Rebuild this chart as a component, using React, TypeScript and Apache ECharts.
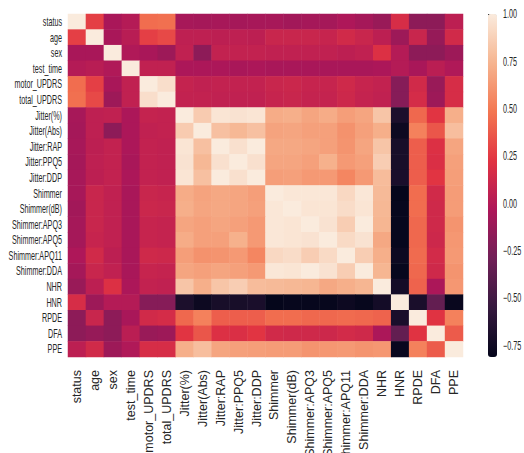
import React, { useEffect, useRef } from "react";
import * as echarts from "echarts";

const variables = [
  "status", "age", "sex", "test_time", "motor_UPDRS", "total_UPDRS",
  "Jitter(%)", "Jitter(Abs)", "Jitter:RAP", "Jitter:PPQ5", "Jitter:DDP",
  "Shimmer", "Shimmer(dB)", "Shimmer:APQ3", "Shimmer:APQ5", "Shimmer:APQ11",
  "Shimmer:DDA", "NHR", "HNR", "RPDE", "DFA", "PPE",
];

// Upper-triangle correlations: each row lists values for columns i+1..21
const rowStatus = [0.27, -0.05, 0.0, 0.45, 0.46, -0.06, -0.07, -0.06, -0.07, -0.06, -0.06, -0.08, -0.07, -0.07, -0.03, -0.07, -0.12, 0.17, -0.17, -0.17, 0.04];
const rowAge = [-0.05, 0.02, 0.27, 0.31, 0.05, 0.05, 0.04, 0.05, 0.04, 0.1, 0.1, 0.1, 0.09, 0.14, 0.1, 0.04, -0.1, 0.1, -0.13, 0.14];
const rowSex = [-0.02, -0.05, -0.1, 0.06, -0.17, 0.07, 0.07, 0.07, 0.06, 0.06, 0.06, 0.06, 0.04, 0.06, 0.2, 0.0, -0.17, -0.17, -0.1];
const rowTestTime = [0.06, 0.06, -0.04, -0.04, -0.04, -0.05, -0.04, -0.05, -0.05, -0.05, -0.05, -0.05, -0.05, -0.04, 0.0, -0.05, 0.03, -0.02];
const rowMotor = [0.94, 0.08, 0.06, 0.07, 0.07, 0.07, 0.1, 0.11, 0.09, 0.09, 0.13, 0.09, 0.07, -0.2, 0.14, -0.12, 0.17];
const rowTotal = [0.07, 0.07, 0.06, 0.06, 0.06, 0.09, 0.1, 0.08, 0.08, 0.12, 0.08, 0.06, -0.2, 0.16, -0.1, 0.17];
const rowJitterPct = [0.85, 0.97, 0.96, 0.97, 0.71, 0.72, 0.68, 0.71, 0.65, 0.68, 0.82, -0.68, 0.43, 0.23, 0.72];
const rowJitterAbs = [0.8, 0.76, 0.8, 0.67, 0.68, 0.66, 0.66, 0.6, 0.66, 0.72, -0.76, 0.53, 0.36, 0.79];
const rowJitterRAP = [0.95, 1.0, 0.69, 0.69, 0.68, 0.66, 0.61, 0.68, 0.82, -0.7, 0.39, 0.2, 0.68];
const rowJitterPPQ5 = [0.95, 0.68, 0.68, 0.66, 0.73, 0.63, 0.66, 0.86, -0.7, 0.39, 0.19, 0.66];
const rowJitterDDP = [0.65, 0.66, 0.63, 0.63, 0.55, 0.63, 0.78, -0.69, 0.39, 0.23, 0.65];
const rowShimmer = [0.98, 0.98, 0.98, 0.91, 0.98, 0.77, -0.8, 0.45, 0.14, 0.64];
const rowShimmerDB = [0.97, 0.97, 0.93, 0.97, 0.76, -0.79, 0.45, 0.13, 0.64];
const rowAPQ3 = [0.96, 0.86, 1.0, 0.75, -0.79, 0.43, 0.13, 0.61];
const rowAPQ5 = [0.92, 0.96, 0.69, -0.79, 0.43, 0.12, 0.62];
const rowAPQ11 = [0.86, 0.72, -0.76, 0.44, 0.15, 0.63];
const rowDDA = [0.75, -0.79, 0.43, 0.13, 0.61];
const rowNHR = [-0.72, 0.41, -0.04, 0.62];
const rowHNR = [-0.69, -0.35, -0.78];
const rowRPDE = [0.22, 0.53];
const rowDFA = [0.38];

const upperRows = [
  rowStatus, rowAge, rowSex, rowTestTime, rowMotor, rowTotal, rowJitterPct,
  rowJitterAbs, rowJitterRAP, rowJitterPPQ5, rowJitterDDP, rowShimmer,
  rowShimmerDB, rowAPQ3, rowAPQ5, rowAPQ11, rowDDA, rowNHR, rowHNR, rowRPDE, rowDFA, [],
];

const colorbarTicks = [-0.75, -0.5, -0.25, 0, 0.25, 0.5, 0.75, 1.0];
const rocket = ["#03051a", "#35193e", "#701f57", "#ad1759", "#e13342", "#f37651", "#f6b48f", "#faebdd"];
const scaleMin = -0.81;
const scaleMax = 1.0;

function buildData() {
  const n = variables.length;
  const data: [number, number, number][] = [];
  for (let i = 0; i < n; i++) {
    for (let j = 0; j < n; j++) {
      let v: number;
      if (i === j) v = 1;
      else if (j > i) v = upperRows[i][j - i - 1];
      else v = upperRows[j][i - j - 1];
      data.push([j, i, v]);
    }
  }
  return data;
}

const LABEL_FONT = "Liberation Sans, Arial, sans-serif";
const TEXT_COLOR = "#262626";

export default function App() {
  const ref = useRef<HTMLDivElement>(null);
  useEffect(() => {
    if (!ref.current) return;
    const chart = echarts.init(ref.current, null, { renderer: "svg" });
    const fmt = (v: number) => v.toFixed(2).replace("-", "\u2212");
    chart.setOption({
      animation: false,
      backgroundColor: "#ffffff",
      grid: [
        { left: 68, top: 14, width: 395, height: 343, outerBoundsMode: "none", containLabel: false },
        { left: 488, top: 14, width: 9, height: 343, outerBoundsMode: "none", containLabel: false },
      ],
      xAxis: [
        {
          type: "category",
          data: variables,
          gridIndex: 0,
          axisLine: { show: false },
          axisTick: { show: false },
          splitLine: { show: false },
          axisLabel: {
            rotate: 90,
            interval: 0,
            margin: 13,
            fontSize: 12.5,
            color: TEXT_COLOR,
            fontFamily: LABEL_FONT,
          },
        },
        { type: "value", gridIndex: 1, show: false, min: 0, max: 1 },
      ],
      yAxis: [
        {
          type: "category",
          data: variables,
          inverse: true,
          gridIndex: 0,
          axisLine: { show: false },
          axisTick: { show: false },
          splitLine: { show: false },
          axisLabel: { show: false },
        },
        {
          type: "value",
          gridIndex: 1,
          position: "right",
          min: scaleMin,
          max: scaleMax,
          axisLine: { show: false },
          splitLine: { show: false },
          axisTick: { show: true, length: 3, customValues: colorbarTicks, lineStyle: { color: TEXT_COLOR } },
          axisLabel: { show: false },
        },
      ],
      visualMap: {
        type: "continuous",
        min: scaleMin,
        max: scaleMax,
        calculable: false,
        orient: "vertical",
        left: 488,
        top: 14,
        itemWidth: 9,
        itemHeight: 343,
        padding: 0,
        text: null,
        inRange: { color: rocket },
        seriesIndex: 0,
      },
      series: [
        {
          type: "heatmap",
          xAxisIndex: 0,
          yAxisIndex: 0,
          data: buildData(),
          itemStyle: { borderWidth: 0 },
          emphasis: { disabled: true },
        },
      ],
    });

    // Condensed labels (the reference's labels are horizontally squeezed)
    const gridLeft = chart.convertToPixel({ xAxisIndex: 0 }, 0) as number;
    const cellHalf = ((chart.convertToPixel({ xAxisIndex: 0 }, 1) as number) - gridLeft) / 2;
    const graphics: any[] = [];
    variables.forEach((name, i) => {
      const y = chart.convertToPixel({ yAxisIndex: 0 }, i) as number;
      graphics.push({
        type: "text",
        x: gridLeft - cellHalf - 6,
        y,
        scaleX: 0.6,
        silent: true,
        style: {
          text: name,
          fontSize: 12,
          fontFamily: LABEL_FONT,
          fill: TEXT_COLOR,
          align: "right",
          verticalAlign: "middle",
        },
      });
    });
    colorbarTicks.forEach((v) => {
      const y = chart.convertToPixel({ yAxisIndex: 1 }, v) as number;
      graphics.push({
        type: "text",
        x: 503,
        y,
        scaleX: 0.6,
        silent: true,
        style: {
          text: fmt(v),
          fontSize: 12,
          fontFamily: LABEL_FONT,
          fill: TEXT_COLOR,
          align: "left",
          verticalAlign: "middle",
        },
      });
    });
    chart.setOption({ graphic: graphics });
    return () => chart.dispose();
  }, []);
  return <div ref={ref} style={{ width: 524, height: 453, position: "absolute", left: 0, top: 0 }} />;
}
